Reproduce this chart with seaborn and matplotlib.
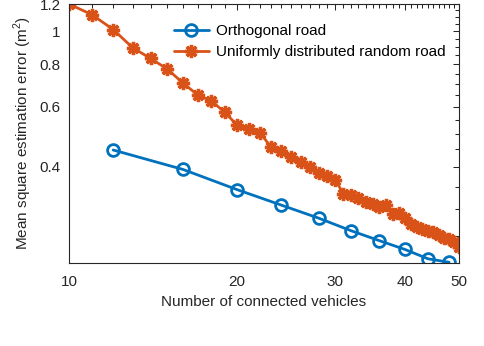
import numpy as np
import pandas as pd
import matplotlib
matplotlib.use("Agg")
import matplotlib.pyplot as plt
import seaborn as sns
from matplotlib.ticker import FixedLocator, NullFormatter

# ---- data ----
ortho_x = [12, 16, 20, 24, 28, 32, 36, 40, 44, 48]
ortho_y = [0.448, 0.393, 0.343, 0.309, 0.283, 0.260, 0.243, 0.229, 0.215, 0.210]

rand_x = list(range(10, 51))
rand_y = [1.200, 1.116, 1.010, 0.894, 0.831, 0.774, 0.704, 0.650, 0.623, 0.579,
          0.530, 0.516, 0.504, 0.457, 0.446, 0.428, 0.413, 0.400, 0.383, 0.377,
          0.367, 0.334, 0.331, 0.324, 0.316, 0.311, 0.305, 0.310, 0.291, 0.292,
          0.284, 0.272, 0.266, 0.263, 0.259, 0.257, 0.252, 0.248, 0.245, 0.241,
          0.233]

labels = ["Orthogonal road", "Uniformly distributed random road"]
x_ticks = [10, 20, 30, 40, 50]
y_ticks = [0.4, 0.6, 0.8, 1, 1.2]
y_tick_labels = ["0.4", "0.6", "0.8", "1", "1.2"]

BLUE = "#0072BD"
ORANGE = "#D95319"
AX = "#262626"

sns.set_style("white")
plt.rcParams["font.family"] = ["Liberation Sans", "DejaVu Sans"]
plt.rcParams["mathtext.fontset"] = "custom"
plt.rcParams["mathtext.rm"] = "Liberation Sans"

fig = plt.figure(figsize=(4.85, 3.46), dpi=100)
ax = fig.add_axes([0.1423, 0.2399, 0.8041, 0.7485])

df_o = pd.DataFrame({"x": ortho_x, "y": ortho_y})
df_r = pd.DataFrame({"x": rand_x, "y": rand_y})

sns.lineplot(data=df_o, x="x", y="y", ax=ax, color=BLUE, linewidth=2.0,
             marker="o", markersize=8.5, markerfacecolor="none",
             markeredgecolor=BLUE, markeredgewidth=2.0, label=labels[0],
             clip_on=True)
sns.lineplot(data=df_r, x="x", y="y", ax=ax, color=ORANGE, linewidth=2.0,
             marker=(8, 2, 0), markersize=9.5, markerfacecolor=ORANGE,
             markeredgecolor=ORANGE, markeredgewidth=2.4, label=labels[1],
             clip_on=True)

ax.set_xscale("log")
ax.set_yscale("log")
ax.set_xlim(10, 50)
ax.set_ylim(0.209, 1.2)

ax.xaxis.set_major_locator(FixedLocator(x_ticks))
ax.set_xticklabels([str(t) for t in x_ticks])
ax.xaxis.set_minor_locator(FixedLocator([v for v in range(11, 50) if v not in x_ticks]))
ax.xaxis.set_minor_formatter(NullFormatter())

ax.yaxis.set_major_locator(FixedLocator(y_ticks))
ax.set_yticklabels(y_tick_labels)
minor_y = [round(0.25 + 0.05 * i, 2) for i in range(0, 19)]
minor_y = [v for v in minor_y if all(abs(v - t) > 1e-6 for t in y_ticks)]
ax.yaxis.set_minor_locator(FixedLocator(minor_y))
ax.yaxis.set_minor_formatter(NullFormatter())

ax.tick_params(which="both", direction="in", top=True, right=True,
               colors=AX, labelcolor=AX, labelsize=11, width=0.75)
ax.tick_params(which="major", length=4)
ax.tick_params(axis="x", which="major", pad=9)
ax.tick_params(axis="y", which="major", pad=6)
ax.tick_params(which="minor", length=2.8)
for s in ax.spines.values():
    s.set_visible(True)
    s.set_color(AX)
    s.set_linewidth(0.8)

ax.set_xlabel("Number of connected vehicles", fontsize=11, color=AX, labelpad=4)
ax.set_ylabel("Mean square estimation error (m$^2$)", fontsize=11, color=AX, labelpad=4)

leg = ax.legend(loc="upper left", bbox_to_anchor=(0.245, 0.958), frameon=False,
                fontsize=11, handlelength=2.3, handletextpad=0.45,
                labelspacing=0.45, borderaxespad=0.2)
for t in leg.get_texts():
    t.set_color("black")

fig.savefig("out.png", dpi=100)
